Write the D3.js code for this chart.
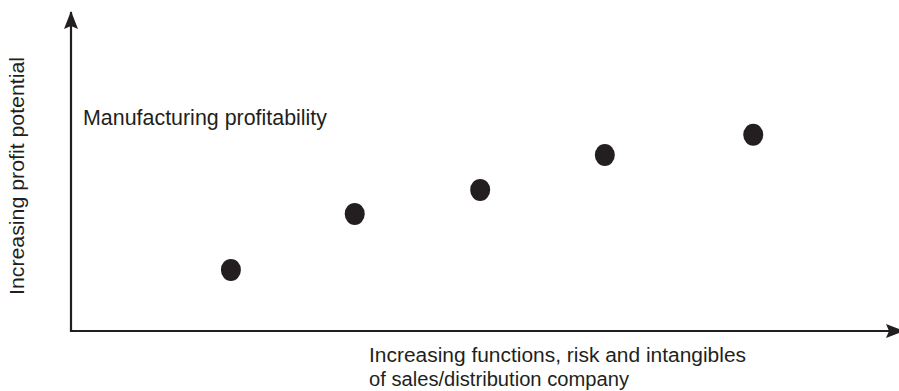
<!DOCTYPE html>
<html>
<head>
<meta charset="utf-8">
<script src="https://cdn.jsdelivr.net/npm/d3@7"></script>
<style>
  html, body { margin: 0; padding: 0; background: #fff; }
  svg { display: block; }
  text { font-family: "Liberation Sans", Arial, Helvetica, sans-serif; fill: #231f20; }
</style>
</head>
<body>
<svg id="chart" width="899" height="391"></svg>
<script>
// Data (relative positions, 0-100 scale on both axes)
const categories = ["A", "B", "C", "D", "E"];
const xValues = [19.5, 34.6, 49.9, 65.1, 83.2];
const yValues = [19.1, 36.6, 44.1, 55.0, 61.3];
const yAxisTitle = "Increasing profit potential";
const xAxisTitle = ["Increasing functions, risk and intangibles", "of sales/distribution company"];
const annotation = "Manufacturing profitability";

const ink = "#231f20";
const svg = d3.select("#chart");
const x0 = 71, y0 = 331;
const x = d3.scaleLinear().domain([0, 100]).range([x0, x0 + 820]);
const y = d3.scaleLinear().domain([0, 100]).range([y0, y0 - 320]);

// Arrow markers
const defs = svg.append("defs");
defs.append("marker")
  .attr("id", "arrow")
  .attr("viewBox", "0 0 18 14")
  .attr("refX", 17).attr("refY", 7)
  .attr("markerWidth", 18).attr("markerHeight", 14)
  .attr("markerUnits", "userSpaceOnUse")
  .attr("orient", "auto")
  .append("path")
  .attr("d", "M0,0 L18,7 L0,14 L3,7 Z")
  .attr("fill", ink);

// Axes
svg.append("path")
  .attr("d", `M${x0},${y(0)} L${x0},12`)
  .attr("stroke", ink).attr("stroke-width", 2.2).attr("fill", "none")
  .attr("marker-end", "url(#arrow)");
svg.append("path")
  .attr("d", `M${x0 - 1.1},${y0} L903,${y0}`)
  .attr("stroke", ink).attr("stroke-width", 2.2).attr("fill", "none")
  .attr("marker-end", "url(#arrow)");

// Points
svg.append("g").selectAll("ellipse")
  .data(categories)
  .join("ellipse")
  .attr("cx", (d, i) => x(xValues[i]))
  .attr("cy", (d, i) => y(yValues[i]))
  .attr("rx", 10)
  .attr("ry", 11)
  .attr("fill", ink);

// Annotation
svg.append("text")
  .attr("x", 83).attr("y", 125)
  .attr("font-size", 21.5)
  .attr("textLength", 244)
  .attr("lengthAdjust", "spacingAndGlyphs")
  .text(annotation);

// Y axis title
svg.append("text")
  .attr("transform", "translate(24,176) rotate(-90)")
  .attr("text-anchor", "middle")
  .attr("font-size", 21)
  .attr("textLength", 238)
  .attr("lengthAdjust", "spacingAndGlyphs")
  .text(yAxisTitle);

// X axis title
svg.append("text")
  .attr("x", 369).attr("y", 362)
  .attr("font-size", 20)
  .selectAll("tspan")
  .data(xAxisTitle)
  .join("tspan")
  .attr("x", 369)
  .attr("dy", (d, i) => i === 0 ? 0 : 23.5)
  .attr("textLength", (d, i) => i === 0 ? 377 : 260)
  .attr("lengthAdjust", "spacingAndGlyphs")
  .text(d => d);
</script>
</body>
</html>
